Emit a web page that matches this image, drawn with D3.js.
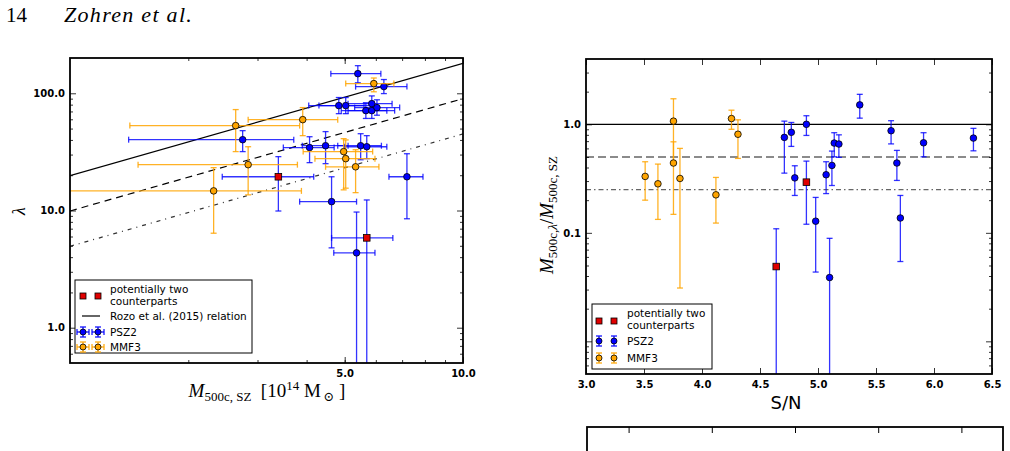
<!DOCTYPE html>
<html>
<head>
<meta charset="utf-8">
<script src="https://cdn.jsdelivr.net/npm/d3@7"></script>
<style>
body { margin: 0; background: #fff; }
svg { display: block; }
.tk text { font-family: "DejaVu Sans", sans-serif; font-weight: bold; font-size: 10px; fill: #000; }
.lg { font-family: "DejaVu Sans", sans-serif; font-size: 10.5px; }
.sf { font-family: "Liberation Serif", "DejaVu Serif", serif; }
</style>
</head>
<body>
<svg id="fig" width="1010" height="451"></svg>
<script>
// left panel rows: [mass, massLo, massHi, lambda, lambdaLo, lambdaHi]
var psz2Left = [
  [2.75, 1.41, 3.71, 40.2, 31.8, 48],
  [5.40, 4.61, 6.18, 147, 123, 172],
  [6.29, 5.33, 7.20, 114, 99.4, 131],
  [4.83, 4.05, 5.60, 78.5, 67, 92],
  [5.03, 4.30, 5.90, 78.5, 67, 92],
  [5.86, 5.10, 6.60, 81.6, 70, 95],
  [5.66, 4.90, 6.40, 71.1, 61, 83],
  [5.86, 5.10, 6.70, 71.1, 61, 83],
  [6.04, 5.30, 6.90, 75.5, 65, 88],
  [4.07, 3.49, 4.70, 34.4, 25.6, 42.6],
  [4.47, 3.90, 5.10, 35.7, 25.1, 47.1],
  [5.49, 4.80, 6.20, 35.7, 27.1, 45.2],
  [5.69, 5.00, 6.40, 35.0, 27.7, 43.5],
  [7.20, 6.48, 7.91, 19.4, 8.5, 30.5],
  [4.63, 3.84, 5.36, 11.9, 4.8, 19.4],
  [5.36, 4.69, 5.97, 4.35, 0.3, 9.7]
];
var twoLeft = [
  [3.39, 2.44, 4.17, 19.4, 9.9, 28.8],
  [5.69, 4.63, 6.63, 5.84, 0.3, 12.3]
];
var mmf3Left = [
  [2.64, 1.42, 3.84, 53, 31.8, 72.6],
  [2.84, 1.49, 3.79, 24.6, 13.6, 35],
  [2.32, 0.95, 3.88, 14.7, 6.4, 23.2],
  [3.91, 2.84, 4.80, 59.6, 43.5, 75.5],
  [5.93, 5.03, 6.67, 121, 103, 135],
  [4.97, 3.92, 5.89, 31.8, 15, 41],
  [5.03, 4.20, 5.97, 27.7, 15.5, 40],
  [5.33, 4.47, 6.11, 23.6, 14.2, 33]
];
// Rozo et al. (2015) relation end points and the two scaled copies
var rozoMass = [1, 10];
var rozoLambda = [19.8, 180];
var relScale = [1, 0.5, 0.25];

// right panel rows: [S/N, ratio, ratioLo, ratioHi]
var psz2Right = [
  [4.71, 0.758, 0.355, 1.07],
  [4.77, 0.844, 0.626, 1.04],
  [4.80, 0.321, 0.221, 0.415],
  [4.90, 1.0, 0.79, 1.2],
  [4.98, 0.128, 0.0435, 0.212],
  [5.10, 0.0387, 0.001, 0.089],
  [5.07, 0.343, 0.23, 0.452],
  [5.12, 0.418, 0.273, 0.567],
  [5.14, 0.672, 0.502, 0.837],
  [5.18, 0.658, 0.496, 0.80],
  [5.36, 1.51, 1.14, 1.89],
  [5.63, 0.873, 0.66, 1.08],
  [5.68, 0.44, 0.304, 0.575],
  [5.71, 0.137, 0.0544, 0.221],
  [5.91, 0.676, 0.502, 0.837],
  [6.34, 0.747, 0.57, 0.918]
];
var twoRight = [
  [4.64, 0.0489, 0.001, 0.109],
  [4.90, 0.293, 0.12, 0.458]
];
var mmf3Right = [
  [3.51, 0.331, 0.2, 0.452],
  [3.62, 0.283, 0.133, 0.43],
  [3.754, 1.07, 0.45, 1.72],
  [3.754, 0.44, 0.148, 0.69],
  [3.81, 0.317, 0.031, 0.60],
  [4.12, 0.224, 0.123, 0.324],
  [4.254, 1.13, 0.90, 1.35],
  [4.31, 0.81, 0.485, 1.10]
];
var ratioLines = [1, 0.5, 0.25];

var leftXTicks = [5, 10], leftYTicks = [1, 10, 100];
var rightXTicks = [3.0, 3.5, 4.0, 4.5, 5.0, 5.5, 6.0, 6.5];
var rightYTicks = [0.01, 0.1, 1], rightYLabels = [0.1, 1];
var panel3Ticks = [1, 3, 5, 7, 9];

var svg = d3.select("#fig");
var BLUE = "#0000ff", ORANGE = "#ffa500", RED = "#e00000";

function logMinor(dom) {
  var out = [];
  for (var e = -4; e <= 3; e++) {
    for (var k = 2; k <= 9; k++) {
      var v = k * Math.pow(10, e);
      if (v > dom[0] && v < dom[1]) out.push(v);
    }
  }
  return out;
}

function axes(g, x, y, xMaj, xMin, yMaj, yMin, xFmt, yFmt) {
  var x0 = x.range()[0], x1 = x.range()[1], y0 = y.range()[0], y1 = y.range()[1];
  var a = g.append("g").attr("class", "tk");
  a.append("g").attr("transform", "translate(0," + y0 + ")")
    .call(d3.axisBottom(x).tickValues(xMaj).tickSize(-6).tickPadding(7).tickFormat(xFmt));
  a.append("g").attr("transform", "translate(0," + y1 + ")")
    .call(d3.axisTop(x).tickValues(xMaj).tickSize(-6).tickFormat(""));
  a.append("g").attr("transform", "translate(" + x0 + ",0)")
    .call(d3.axisLeft(y).tickValues(yMaj).tickSize(-6).tickPadding(5).tickFormat(yFmt));
  a.append("g").attr("transform", "translate(" + x1 + ",0)")
    .call(d3.axisRight(y).tickValues(yMaj).tickSize(-6).tickFormat(""));
  if (xMin.length) {
    a.append("g").attr("transform", "translate(0," + y0 + ")")
      .call(d3.axisBottom(x).tickValues(xMin).tickSize(-3).tickFormat(""));
    a.append("g").attr("transform", "translate(0," + y1 + ")")
      .call(d3.axisTop(x).tickValues(xMin).tickSize(-3).tickFormat(""));
  }
  a.append("g").attr("transform", "translate(" + x0 + ",0)")
    .call(d3.axisLeft(y).tickValues(yMin).tickSize(-3).tickFormat(""));
  a.append("g").attr("transform", "translate(" + x1 + ",0)")
    .call(d3.axisRight(y).tickValues(yMin).tickSize(-3).tickFormat(""));
  a.selectAll(".domain").remove();
  a.selectAll(".tick line").attr("stroke", "#000").attr("stroke-width", 0.8);
  g.append("rect").attr("x", x0).attr("y", y1).attr("width", x1 - x0).attr("height", y0 - y1)
    .attr("fill", "none").attr("stroke", "#000").attr("stroke-width", 1.8);
}

function clipFor(id, x, y) {
  svg.append("clipPath").attr("id", id).append("rect")
    .attr("x", x.range()[0]).attr("y", y.range()[1])
    .attr("width", x.range()[1] - x.range()[0]).attr("height", y.range()[0] - y.range()[1]);
}

// r: {x, xlo, xhi, y, ylo, yhi}
function errorBars(g, rows, x, y, color, op) {
  var cap = 3;
  var eg = g.append("g").attr("stroke", color).attr("stroke-width", 1.3).attr("stroke-opacity", op);
  rows.forEach(function (r) {
    if (r.xlo !== undefined) {
      eg.append("line").attr("x1", x(r.xlo)).attr("x2", x(r.xhi)).attr("y1", y(r.y)).attr("y2", y(r.y));
      [r.xlo, r.xhi].forEach(function (v) {
        eg.append("line").attr("x1", x(v)).attr("x2", x(v)).attr("y1", y(r.y) - cap).attr("y2", y(r.y) + cap);
      });
    }
    eg.append("line").attr("x1", x(r.x)).attr("x2", x(r.x)).attr("y1", y(r.ylo)).attr("y2", y(r.yhi));
    [r.ylo, r.yhi].forEach(function (v) {
      eg.append("line").attr("x1", x(r.x) - cap).attr("x2", x(r.x) + cap).attr("y1", y(v)).attr("y2", y(v));
    });
  });
}

function circles(g, rows, x, y, fill) {
  g.append("g").selectAll("circle").data(rows).join("circle")
    .attr("cx", function (r) { return x(r.x); }).attr("cy", function (r) { return y(r.y); })
    .attr("r", 3.3).attr("fill", fill).attr("stroke", "#000").attr("stroke-width", 0.8);
}

function squares(g, rows, x, y) {
  g.append("g").selectAll("rect").data(rows).join("rect")
    .attr("x", function (r) { return x(r.x) - 3.3; }).attr("y", function (r) { return y(r.y) - 3.3; })
    .attr("width", 6.6).attr("height", 6.6).attr("fill", RED).attr("stroke", "#000").attr("stroke-width", 0.8);
}

function asLeft(a) { return { x: a[0], xlo: a[1], xhi: a[2], y: a[3], ylo: a[4], yhi: a[5] }; }
function asRight(a) { return { x: a[0], y: a[1], ylo: a[2], yhi: a[3] }; }

// header
svg.append("text").attr("class", "sf").attr("x", 6).attr("y", 22).attr("font-size", 21).text("14");
svg.append("text").attr("class", "sf").attr("x", 64).attr("y", 22).attr("font-size", 22)
  .attr("letter-spacing", 1.3).attr("font-style", "italic").text("Zohren et al.");

// ---------- left panel ----------
var xL = d3.scaleLog().domain([1, 10]).range([70, 463]);
var yL = d3.scaleLog().domain([0.5, 200]).range([363, 58]);
clipFor("clipL", xL, yL);
var gL = svg.append("g");
var pL = gL.append("g").attr("clip-path", "url(#clipL)");
var relDash = [null, "7,5", "4,5,1,5"];
relScale.forEach(function (s, i) {
  pL.append("line")
    .attr("x1", xL(rozoMass[0])).attr("y1", yL(rozoLambda[0] * s))
    .attr("x2", xL(rozoMass[1])).attr("y2", yL(rozoLambda[1] * s))
    .attr("stroke", i == 2 ? "#333" : "#000").attr("stroke-width", 1.2)
    .attr("stroke-dasharray", relDash[i]);
});
var bl = psz2Left.map(asLeft), rl = twoLeft.map(asLeft), ol = mmf3Left.map(asLeft);
errorBars(pL, bl.concat(rl), xL, yL, BLUE, 0.8);
circles(pL, bl, xL, yL, BLUE);
squares(pL, rl, xL, yL);
errorBars(pL, ol, xL, yL, ORANGE, 0.85);
circles(pL, ol, xL, yL, ORANGE);
axes(gL, xL, yL, leftXTicks, logMinor(xL.domain()), leftYTicks, logMinor(yL.domain()),
  d3.format(".1f"), d3.format(".1f"));

// left labels
svg.append("text").attr("class", "sf").attr("font-size", 18).attr("font-style", "italic")
  .attr("transform", "translate(25,211) rotate(-90)").attr("text-anchor", "middle").text("λ");
var xlab = svg.append("text").attr("class", "sf").attr("font-size", 19)
  .attr("x", 267).attr("y", 397).attr("text-anchor", "middle");
xlab.append("tspan").attr("font-style", "italic").text("M");
xlab.append("tspan").attr("font-size", 13).attr("dy", 4).text("500c, SZ");
xlab.append("tspan").attr("dy", -4).text("\u2002[10");
xlab.append("tspan").attr("font-size", 13).attr("dy", -7).text("14");
xlab.append("tspan").attr("dy", 7).text(" M");
xlab.append("tspan").attr("font-size", 13).attr("dy", 4).text("\u2009\u2299");
xlab.append("tspan").attr("dy", -4).text(" ]");

// left legend
var lgL = svg.append("g").attr("class", "lg");
lgL.append("rect").attr("x", 75).attr("y", 280).attr("width", 177).attr("height", 73)
  .attr("fill", "#fff").attr("stroke", "#000").attr("stroke-width", 1);
function legendMarkers(g, xs, yy, kind, color, withX) {
  xs.forEach(function (cx) {
    if (kind == "sq") {
      g.append("rect").attr("x", cx - 3).attr("y", yy - 3).attr("width", 6).attr("height", 6)
        .attr("fill", RED).attr("stroke", "#000").attr("stroke-width", 0.8);
    } else {
      var e = g.append("g").attr("stroke", color).attr("stroke-width", 1.2);
      e.append("line").attr("x1", cx).attr("x2", cx).attr("y1", yy - 5).attr("y2", yy + 5);
      e.append("line").attr("x1", cx - 3).attr("x2", cx + 3).attr("y1", yy - 5).attr("y2", yy - 5);
      e.append("line").attr("x1", cx - 3).attr("x2", cx + 3).attr("y1", yy + 5).attr("y2", yy + 5);
      if (withX) {
        e.append("line").attr("x1", cx - 6).attr("x2", cx + 6).attr("y1", yy).attr("y2", yy);
        e.append("line").attr("x1", cx - 6).attr("x2", cx - 6).attr("y1", yy - 3).attr("y2", yy + 3);
        e.append("line").attr("x1", cx + 6).attr("x2", cx + 6).attr("y1", yy - 3).attr("y2", yy + 3);
      }
      g.append("circle").attr("cx", cx).attr("cy", yy).attr("r", 3).attr("fill", color)
        .attr("stroke", "#000").attr("stroke-width", 0.8);
    }
  });
}
legendMarkers(lgL, [83, 98], 296, "sq");
lgL.append("text").attr("x", 110).attr("y", 293).text("potentially two");
lgL.append("text").attr("x", 110).attr("y", 304.5).text("counterparts");
lgL.append("line").attr("x1", 82).attr("x2", 100).attr("y1", 316).attr("y2", 316).attr("stroke", "#000").attr("stroke-width", 1.2);
lgL.append("text").attr("x", 110).attr("y", 320).text("Rozo et al. (2015) relation");
legendMarkers(lgL, [83, 98], 332, "c", BLUE, true);
lgL.append("text").attr("x", 110).attr("y", 336).text("PSZ2");
legendMarkers(lgL, [83, 98], 347, "c", ORANGE, true);
lgL.append("text").attr("x", 110).attr("y", 351).text("MMF3");

// ---------- right panel ----------
var xR = d3.scaleLinear().domain([3, 6.5]).range([586, 992]);
var yR = d3.scaleLog().domain([0.005, 4]).range([374, 59]);
clipFor("clipR", xR, yR);
var gR = svg.append("g");
var pR = gR.append("g").attr("clip-path", "url(#clipR)");
var ratioDash = [null, "8,4", "5,3,1.5,3"];
ratioLines.forEach(function (v, i) {
  pR.append("line").attr("x1", xR(3)).attr("x2", xR(6.5)).attr("y1", yR(v)).attr("y2", yR(v))
    .attr("stroke", i == 0 ? "#000" : "#666").attr("stroke-width", i == 0 ? 1.2 : 1.4)
    .attr("stroke-dasharray", ratioDash[i]);
});
var br = psz2Right.map(asRight), rr = twoRight.map(asRight), orr = mmf3Right.map(asRight);
errorBars(pR, br.concat(rr), xR, yR, BLUE, 0.8);
circles(pR, br, xR, yR, BLUE);
squares(pR, rr, xR, yR);
errorBars(pR, orr, xR, yR, ORANGE, 0.85);
circles(pR, orr, xR, yR, ORANGE);
axes(gR, xR, yR, rightXTicks, [], rightYTicks, logMinor(yR.domain()),
  d3.format(".1f"), function (d) { return rightYLabels.indexOf(d) >= 0 ? d3.format(".1f")(d) : ""; });

svg.append("text").attr("x", 786).attr("y", 409).attr("text-anchor", "middle")
  .attr("font-family", "DejaVu Sans, sans-serif").attr("font-size", 18).text("S/N");
var ylab = svg.append("text").attr("class", "sf").attr("font-size", 19)
  .attr("transform", "translate(553,215) rotate(-90)").attr("text-anchor", "middle");
ylab.append("tspan").attr("font-style", "italic").text("M");
ylab.append("tspan").attr("font-size", 13).attr("dy", 4).text("500c,");
ylab.append("tspan").attr("font-size", 13).attr("font-style", "italic").text("λ");
ylab.append("tspan").attr("dy", -4).text("/");
ylab.append("tspan").attr("font-style", "italic").text("M");
ylab.append("tspan").attr("font-size", 13).attr("dy", 4).text("500c, SZ");

// right legend
var lgR = svg.append("g").attr("class", "lg");
lgR.append("rect").attr("x", 592).attr("y", 304).attr("width", 120).attr("height", 65)
  .attr("fill", "#fff").attr("stroke", "#000").attr("stroke-width", 1);
legendMarkers(lgR, [599, 614], 321, "sq");
lgR.append("text").attr("x", 627).attr("y", 317).text("potentially two");
lgR.append("text").attr("x", 627).attr("y", 328.5).text("counterparts");
legendMarkers(lgR, [599, 614], 341, "c", BLUE, false);
lgR.append("text").attr("x", 627).attr("y", 345).text("PSZ2");
legendMarkers(lgR, [599, 614], 358, "c", ORANGE, false);
lgR.append("text").attr("x", 627).attr("y", 362).text("MMF3");

// third panel, only its top edge is inside the page
var x3 = d3.scaleLinear().domain([0, 10]).range([587, 1003]);
var g3 = svg.append("g");
g3.append("rect").attr("x", 587).attr("y", 427).attr("width", 416).attr("height", 60)
  .attr("fill", "none").attr("stroke", "#000").attr("stroke-width", 1.8);
g3.append("g").attr("class", "tk").attr("transform", "translate(0,427)")
  .call(d3.axisTop(x3).tickValues(panel3Ticks).tickSize(-6).tickFormat(""))
  .call(function (a) { a.select(".domain").remove(); });
</script>
</body>
</html>
